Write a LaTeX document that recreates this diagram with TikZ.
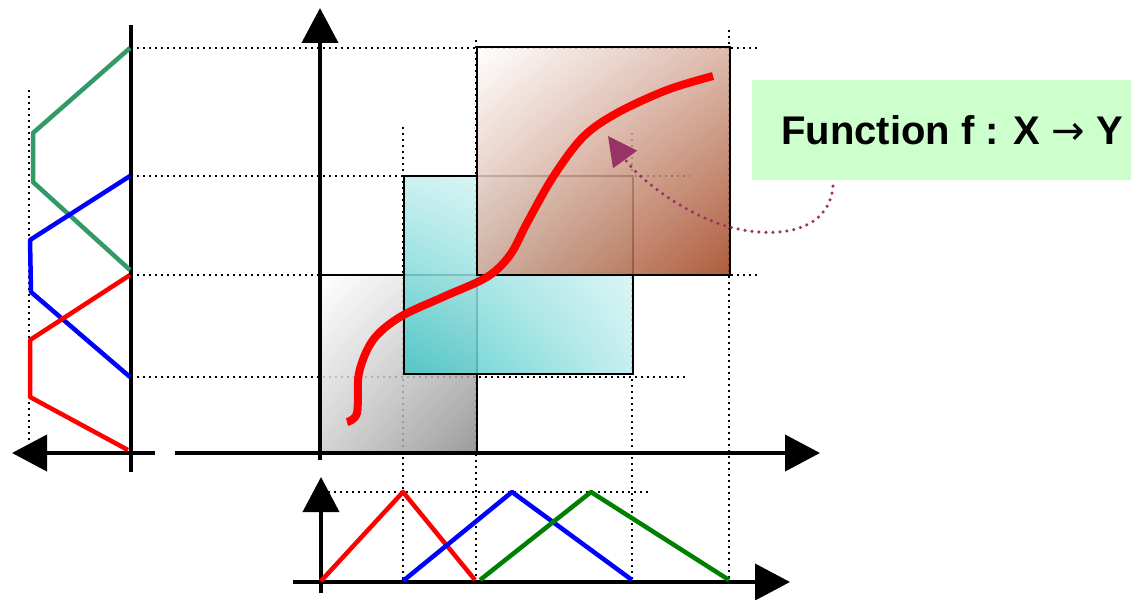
\documentclass[tikz,border=0pt]{standalone}
\usepackage{fontspec}
\newfontfamily\labelfont{Liberation Sans}
\newfontfamily\arrowfont{DejaVu Sans}
\usetikzlibrary{arrows.meta,shadings,positioning}
\definecolor{mfgreen}{HTML}{339966}
\definecolor{outgreen}{HTML}{008000}
\definecolor{lblgreen}{HTML}{CCFFCC}
\definecolor{hintmag}{HTML}{993366}
\definecolor{boxgray}{HTML}{8A8A8A}
\definecolor{boxcyan}{HTML}{3CC6C6}
\definecolor{boxbrown}{HTML}{A0401A}
\tikzset{
  >={Triangle[length=35pt,width=36pt]},
  guide/.style={line width=2.2pt, dash pattern=on 2.2pt off 3.8pt},
  mf/.style={line width=4.5pt, line join=round},
}

\begin{document}
\begin{tikzpicture}[
  x=1pt, y=-1pt,
  axis/.style={->, line width=4pt},
  region/.style={draw=black, line width=2.8pt, fill opacity=0.85},
]
\useasboundingbox (0,0) rectangle (1131,599);

\draw[guide] (29,90) -- (29,442);
\foreach \x/\y in {403/127, 476/40, 632/133, 729/30}
  \draw[guide] (\x,\y) -- (\x,580);
\foreach \y/\x in {48/760, 176/690, 275/757, 377/688}
  \draw[guide] (131,\y) -- (\x,\y);
\draw[guide] (328,492) -- (648,492);

\shadedraw[region, upper left=white, upper right=gray!35, lower left=gray!40, lower right=boxgray]
  (321,275) rectangle (477,453);
\shadedraw[region, upper left=boxcyan!30, upper right=boxcyan!8, lower left=boxcyan, lower right=boxcyan!35]
  (404,176) rectangle (633,374);
\shadedraw[region, upper left=white, upper right=boxbrown!42, lower left=boxbrown!46, lower right=boxbrown]
  (477,47) rectangle (730,275);

\draw[red, line width=8pt] plot[smooth, tension=0.55] coordinates {
  (347,422) (357,413) (359,373) (373,340) (400,317) (443,297) (487,277)
  (510,255) (527,223) (553,177) (583,137) (617,113) (667,90) (713,76)};

\coordinate (O) at (320,453);
\draw[axis] (175,453) -- (820,453);
\draw[axis] (O) ++(0,7) -- (320,8);
\draw[line width=4pt] (131,25) -- (131,472);
\draw[axis] (155,453) -- (12,453);
\draw[axis] (293,582) -- (790,582);
\draw[axis] (321,593) -- (321,477);

\draw[mf, mfgreen] (130,48) -- (33,133) -- (33,182) -- (130,270);
\draw[mf, blue] (130,176) -- (30,240) -- (31,292) -- (130,377);
\draw[mf, red] (130,275) -- (30,340) -- (30,397) -- (128,450);

\draw[mf, red] (321,581) -- (403,492) -- (475,580);
\draw[mf, blue] (403,581) -- (512,492) -- (632,580);
\draw[mf, outgreen] (480,580) -- (591,492) -- (729,580);

\node[fill=lblgreen, minimum width=401pt, minimum height=100pt,
  font=\labelfont\bfseries\fontsize{40}{48}\selectfont] (lbl) at (952,130)
  {Function f : X {\arrowfont\mdseries →} Y};

\coordinate (hint) at (608,136);
\draw[hintmag, line width=3.5pt, line cap=round, dash pattern=on 0pt off 7pt,
  -{Triangle[length=29pt,width=29pt]}]
  ([xshift=-119pt,yshift=-6pt]lbl.south) .. controls (828,240) and (760,238) .. (720,224)
  .. controls (680,210) and (640,180) .. (hint);

\end{tikzpicture}
\end{document}
